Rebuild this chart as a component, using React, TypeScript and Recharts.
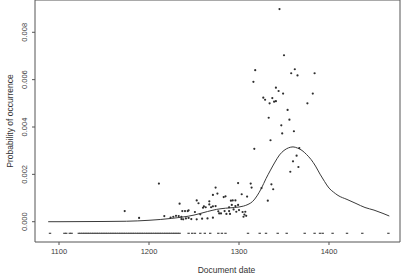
import React from 'react';
import { ComposedChart, XAxis, YAxis, Scatter, Line, ReferenceArea, Label } from 'recharts';

// Axis ranges (plot region as in the reference)
const X_MIN = 1073.33;
const X_MAX = 1478.89;
const Y_MIN = -0.000857;
const Y_MAX = 0.009364;

const xTicks = [1100, 1200, 1300, 1400];
const yTicks = [0, 0.002, 0.004, 0.006, 0.008];

const xTitle = 'Document date';
const yTitle = 'Probability of occurrence';

// Documents with non-zero occurrence: [year, probability]
const docPoints: [number, number][] = [
  [1345, 0.00898], [1350, 0.00703], [1318, 0.0064], [1362, 0.00644], [1358, 0.00627],
  [1365, 0.00618], [1384, 0.00627], [1316, 0.00591], [1341, 0.00566], [1344, 0.00552],
  [1349, 0.00541], [1382, 0.00541], [1327, 0.00524], [1329, 0.00515], [1337, 0.00522],
  [1339, 0.00507], [1341, 0.00509], [1334, 0.005], [1376, 0.005], [1354, 0.00472],
  [1333, 0.00439], [1356, 0.00431], [1347, 0.00407], [1348, 0.00373], [1361, 0.00382],
  [1335, 0.00344], [1317, 0.00308], [1367, 0.00311], [1364, 0.00279], [1360, 0.00255],
  [1366, 0.00231], [1357, 0.00211], [1211, 0.00161], [1173, 0.00045], [1189, 0.00016],
  [1336, 0.00158], [1338, 0.00137], [1332, 0.00089], [1325, 0.00142], [1313, 0.00161],
  [1314, 0.00144], [1299, 0.00163], [1274, 0.00144], [1276, 0.00119], [1271, 0.00113],
  [1283, 0.00104], [1285, 0.00107], [1303, 0.00116], [1309, 0.00106], [1291, 0.00089],
  [1293, 0.0009], [1296, 0.0009], [1234, 0.00076], [1253, 0.0009], [1255, 0.00078],
  [1267, 0.00086], [1217, 0.00024], [1224, 0.00017], [1227, 0.00021], [1230, 0.00025],
  [1233, 0.00024], [1236, 0.00021], [1237, 0.00045], [1240, 0.00045], [1243, 0.00045],
  [1244, 0.00048], [1236, 0.00011], [1238, 0.0001], [1241, 0.00014], [1244, 0.00016],
  [1247, 0.00011], [1251, 0.00041], [1253, 0.0001], [1257, 0.00031], [1259, 0.00013],
  [1260, 0.00059], [1261, 0.00065], [1263, 0.00061], [1265, 0.00014], [1267, 0.00073],
  [1269, 0.00061], [1271, 0.00065], [1274, 0.00066], [1271, 0.00017], [1277, 0.00044],
  [1278, 0.00035], [1280, 0.00035], [1284, 0.00045], [1286, 0.00033], [1289, 0.00061],
  [1289, 0.00045], [1292, 0.00071], [1294, 0.00052], [1296, 0.00066], [1299, 0.00071],
  [1290, 0.00033], [1297, 0.00042], [1300, 0.00049], [1304, 0.00041], [1306, 0.0003],
  [1307, 0.00042], [1305, 0.00021], [1308, 0.00025],
];

// Documents with zero occurrence (drawn as a row below zero)
const ZERO_ROW = -0.00049;
const zeroDocYears = [
  1090, 1106, 1108, 1112, 1114,
  1122, 1124, 1126, 1128, 1130, 1132, 1134, 1136, 1138, 1140, 1142, 1144, 1146, 1148,
  1150, 1152, 1154, 1156, 1158, 1160, 1162, 1164, 1166, 1168, 1170, 1172, 1174, 1176,
  1178, 1180, 1182, 1184, 1186, 1188, 1190, 1192, 1194, 1196, 1198, 1200, 1202, 1204,
  1206, 1208, 1210, 1212, 1214, 1216, 1218, 1220, 1222, 1224, 1226, 1228, 1230, 1232, 1234,
  1244, 1248, 1251, 1257, 1262, 1268, 1277, 1281, 1285,
  1310, 1323, 1330, 1343, 1353, 1373, 1384, 1390, 1393, 1404, 1420, 1437, 1466,
];

// Smoothed estimate: [year, probability]
const smoothCurve: [number, number][] = [
  [1088, 0], [1100, 0], [1150, 0.00001], [1175, 0.00002], [1200, 0.00006],
  [1225, 0.00014], [1250, 0.00028], [1265, 0.00043], [1275, 0.00052], [1285, 0.00057],
  [1295, 0.0006], [1305, 0.00066], [1310, 0.00073], [1315, 0.00085], [1320, 0.00109],
  [1325, 0.00142], [1330, 0.00182], [1335, 0.00218], [1340, 0.00252], [1345, 0.00282],
  [1350, 0.00301], [1355, 0.00312], [1360, 0.00316], [1365, 0.00311], [1370, 0.00301],
  [1375, 0.00284], [1380, 0.00263], [1385, 0.00235], [1390, 0.00201], [1395, 0.0017],
  [1400, 0.00142], [1405, 0.00125], [1410, 0.00111], [1420, 0.00094], [1430, 0.00077],
  [1440, 0.0006], [1450, 0.00049], [1460, 0.00035], [1467, 0.00024],
];

const pointData = docPoints.map(([x, y]) => ({ x, y }));
const zeroData = zeroDocYears.map((x) => ({ x, y: ZERO_ROW }));
const curveData = smoothCurve.map(([x, y]) => ({ x, y }));

const FONT = '"Liberation Sans", Arial, Helvetica, sans-serif';
const INK = '#2e2e2e';
const AXIS = '#555555';

const Dot = (props: any) => {
  const { cx, cy } = props;
  if (cx == null || cy == null) return null;
  return <circle cx={cx} cy={cy} r={1.1} fill={INK} />;
};

const Dash = (props: any) => {
  const { cx, cy } = props;
  if (cx == null || cy == null) return null;
  return <rect x={cx - 1.2} y={cy - 0.6} width={2.4} height={1.2} fill="#4a4a4a" />;
};

const XTick = (props: any) => {
  const { x, y, payload } = props;
  return (
    <text x={x} y={y + 7} textAnchor="middle" fontSize={7.5} fontFamily={FONT} fill="#3a3a3a">
      {payload.value}
    </text>
  );
};

const YTick = (props: any) => {
  const { x, y, payload } = props;
  const bx = x - 3;
  return (
    <text
      x={bx}
      y={y}
      transform={`rotate(-90 ${bx} ${y})`}
      textAnchor="middle"
      fontSize={7.5}
      fontFamily={FONT}
      fill="#3a3a3a"
    >
      {Number(payload.value).toFixed(3)}
    </text>
  );
};

const XTitle = (props: any) => {
  const vb = props.viewBox || {};
  const cx = vb.x + vb.width / 2 + 9;
  const cy = vb.y + 31;
  return (
    <text x={cx} y={cy} textAnchor="middle" fontSize={8.5} fontFamily={FONT} fill="#333">
      {xTitle}
    </text>
  );
};

const YTitle = (props: any) => {
  const vb = props.viewBox || {};
  const bx = vb.x + 13;
  const cy = vb.y + vb.height / 2;
  return (
    <text
      x={bx}
      y={cy}
      transform={`rotate(-90 ${bx} ${cy})`}
      textAnchor="middle"
      fontSize={8.5}
      fontFamily={FONT}
      fill="#333"
    >
      {yTitle}
    </text>
  );
};

export default function App() {
  return (
    <div style={{ position: 'absolute', left: 0, top: 0, background: '#fff' }}>
      <ComposedChart width={402} height={275} margin={{ top: 0, right: 2, bottom: 0, left: 0 }}>
        <XAxis
          type="number"
          dataKey="x"
          domain={[X_MIN, X_MAX]}
          allowDataOverflow
          ticks={xTicks}
          tick={<XTick />}
          tickSize={3}
          tickLine={{ stroke: AXIS }}
          axisLine={false}
          height={33}
        >
          <Label content={<XTitle />} />
        </XAxis>
        <YAxis
          type="number"
          dataKey="y"
          domain={[Y_MIN, Y_MAX]}
          allowDataOverflow
          ticks={yTicks}
          tick={<YTick />}
          tickSize={3}
          tickLine={{ stroke: AXIS }}
          axisLine={false}
          width={35}
        >
          <Label content={<YTitle />} />
        </YAxis>
        <ReferenceArea
          x1={X_MIN}
          x2={X_MAX}
          y1={Y_MIN}
          y2={Y_MAX}
          fill="none"
          fillOpacity={0}
          stroke={AXIS}
          strokeWidth={1}
          ifOverflow="visible"
        />
        <Line
          data={curveData}
          dataKey="y"
          type="monotone"
          dot={false}
          stroke="#3a3a3a"
          strokeWidth={1}
          isAnimationActive={false}
        />
        <Scatter data={pointData} dataKey="y" shape={<Dot />} isAnimationActive={false} />
        <Scatter data={zeroData} dataKey="y" shape={<Dash />} isAnimationActive={false} />
      </ComposedChart>
    </div>
  );
}
